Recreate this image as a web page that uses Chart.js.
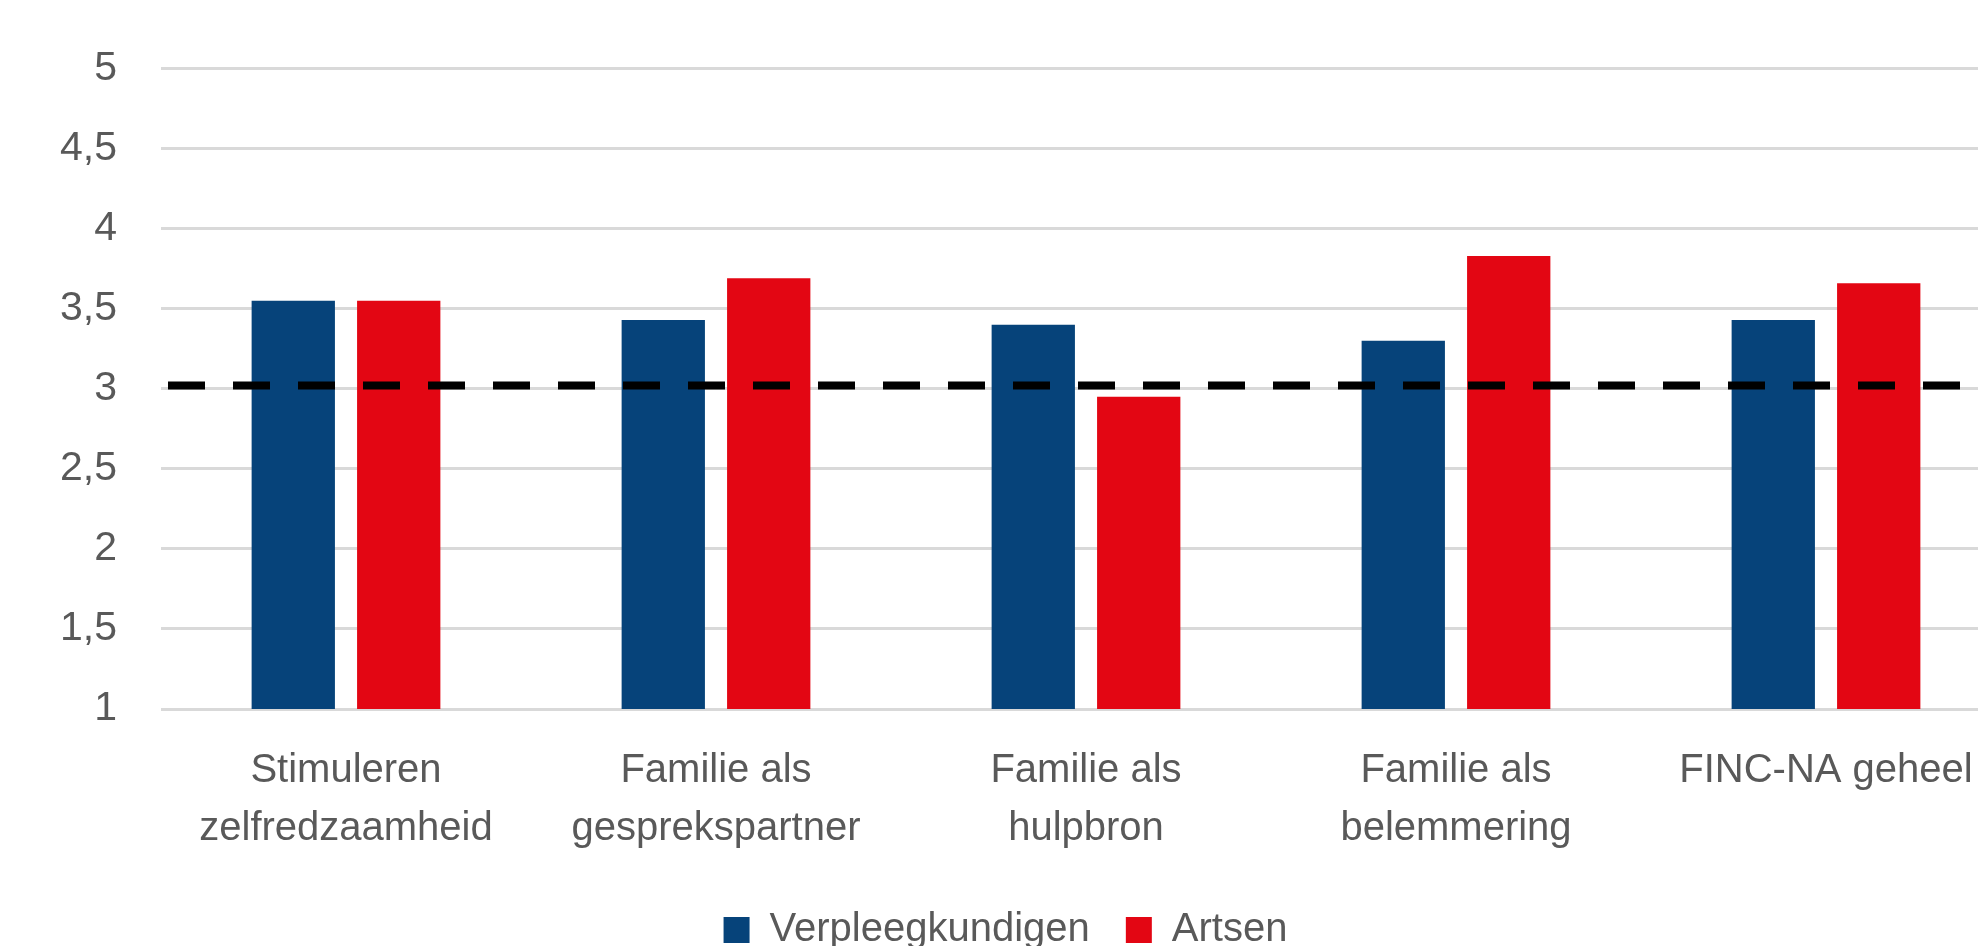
<!DOCTYPE html>
<html>
<head>
<meta charset="utf-8">
<script src="https://cdn.jsdelivr.net/npm/chart.js@4"></script>
<style>
  html, body { margin: 0; padding: 0; background: #fff; overflow: hidden; }
  #wrap { width: 2108px; height: 946px; }
</style>
</head>
<body>
<div id="wrap"><canvas id="finc" width="2108" height="946"></canvas></div>
<script>
  const categories = [
    ['Stimuleren', 'zelfredzaamheid'],
    ['Familie als', 'gesprekspartner'],
    ['Familie als', 'hulpbron'],
    ['Familie als', 'belemmering'],
    'FINC-NA geheel'
  ];
  const verpleegkundigen = [3.55, 3.43, 3.40, 3.30, 3.43];
  const artsen = [3.55, 3.69, 2.95, 3.83, 3.66];
  const referenceValue = 3.02;

  const textColor = '#595959';
  Chart.defaults.font.family = '"Liberation Sans", Arial, sans-serif';
  Chart.defaults.font.size = 40;
  Chart.defaults.color = textColor;

  // dashed reference line over the whole plot width
  const refLine = {
    id: 'refLine',
    afterDatasetsDraw(chart) {
      const { ctx, chartArea, scales } = chart;
      const y = scales.y.getPixelForValue(referenceValue);
      ctx.save();
      ctx.strokeStyle = '#000';
      ctx.lineWidth = 8;
      ctx.setLineDash([37, 28]);
      ctx.beginPath();
      ctx.moveTo(chartArea.left + 7, y);
      ctx.lineTo(chartArea.right, y);
      ctx.stroke();
      ctx.restore();
    }
  };

  new Chart(document.getElementById('finc'), {
    type: 'bar',
    data: {
      labels: categories,
      datasets: [{
        label: 'Verpleegkundigen',
        data: verpleegkundigen,
        backgroundColor: '#06437a',
        categoryPercentage: 0.57,
        barPercentage: 0.79
      }, {
        label: 'Artsen',
        data: artsen,
        backgroundColor: '#e30613',
        categoryPercentage: 0.57,
        barPercentage: 0.79
      }]
    },
    options: {
      responsive: false,
      animation: false,
      layout: { padding: { top: 60, right: 97, bottom: -14, left: 0 } },
      scales: {
        x: {
          afterFit: s => { s.height = 165; },
          grid: { display: false },
          border: { display: false },
          ticks: { padding: 25, maxRotation: 0, autoSkip: false, font: { lineHeight: 1.45 } }
        },
        y: {
          min: 1,
          max: 5,
          afterFit: s => { s.width = 161; },
          grid: { color: '#d9d9d9', lineWidth: 3, drawTicks: false },
          border: { display: false },
          ticks: {
            stepSize: 0.5,
            padding: 44,
            font: { size: 41 },
            callback: v => String(v).replace('.', ',')
          }
        }
      },
      plugins: {
        legend: {
          position: 'bottom',
          labels: { boxWidth: 26, boxHeight: 26, padding: 36 }
        },
        tooltip: { enabled: false }
      }
    },
    plugins: [refLine]
  });
</script>
</body>
</html>
